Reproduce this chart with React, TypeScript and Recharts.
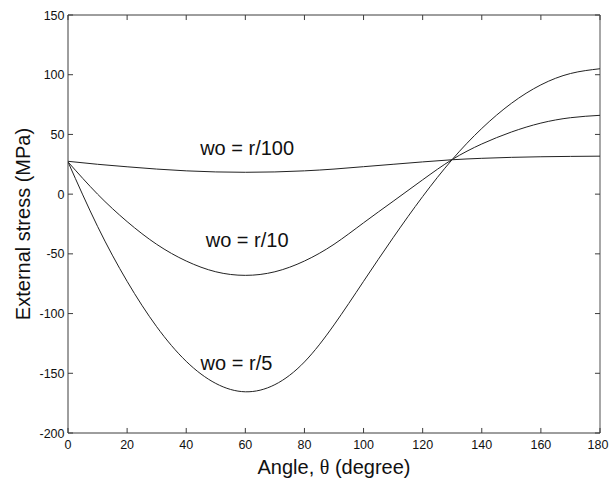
import React from 'react';
import {
  LineChart,
  Line,
  XAxis,
  YAxis,
  ReferenceDot,
  ReferenceLine,
  Label,
} from 'recharts';

const angles = [0, 10, 20, 30, 40, 50, 60, 70, 80, 90, 100, 110, 120, 130, 140, 150, 160, 170, 180];
const woR100 = [27.5, 25, 22.9, 21, 19.5, 18.6, 18.3, 18.6, 19.5, 21, 23, 25, 27, 28.8, 30, 30.8, 31.3, 31.6, 31.8];
const woR10 = [27, 0, -23, -42, -56, -65, -68, -65, -56, -42, -24, -6, 12, 29, 42, 52, 59.5, 64, 66];
const woR5 = [27, -27, -73, -111, -140, -158.5, -165.5, -159.5, -140.5, -109.5, -73, -36.5, -2, 29, 55, 76, 91.5, 101, 105];

const xTicks = [0, 20, 40, 60, 80, 100, 120, 140, 160, 180];
const yTicks = [-200, -150, -100, -50, 0, 50, 100, 150];

const curveLabels = [
  { text: 'wo = r/100', angle: 60.6, stress: 39 },
  { text: 'wo = r/10', angle: 60.6, stress: -38.5 },
  { text: 'wo = r/5', angle: 57, stress: -141 },
];

const data = angles.map((a, i) => ({
  angle: a,
  r100: woR100[i],
  r10: woR10[i],
  r5: woR5[i],
}));

const X_MIN = 0;
const X_MAX = 180;
const Y_MIN = -200;
const Y_MAX = 150;
// inward tick length (~5px) in data units
const TICK_X = 1.7;
const TICK_Y = 4.2;

const font = 'Liberation Sans, Arial, Helvetica, sans-serif';
const axisColor = '#3c3c3c';

const BottomTick = ({ x, y, payload }: any) => (
  <text x={x} y={y + 16} textAnchor="middle" fontSize={12.5} fontFamily={font} fill="#111">
    {payload.value}
  </text>
);

const LeftTick = ({ x, y, payload }: any) => (
  <text x={x - 3.5} y={y + 4.5} textAnchor="end" fontSize={12.5} fontFamily={font} fill="#111">
    {payload.value}
  </text>
);

const App = () => {
  return (
    <div style={{ position: 'absolute', left: 0, top: 0, background: '#fff' }}>
      <LineChart
        width={610}
        height={482}
        data={data}
        margin={{ top: 15, right: 10, bottom: 0, left: 0 }}
      >
        <XAxis
          dataKey="angle"
          type="number"
          domain={[X_MIN, X_MAX]}
          ticks={xTicks}
          allowDataOverflow
          height={49}
          stroke={axisColor}
          tickLine={false}
          tickSize={0}
          tickMargin={0}
          tick={<BottomTick />}
        >
          <Label
            content={({ viewBox }: any) => (
              <text
                x={viewBox.x + viewBox.width / 2}
                y={viewBox.y + 41}
                textAnchor="middle"
                fontSize={20}
                fontFamily={font}
                fill="#111"
              >
                Angle,{' '}
                <tspan fontFamily="Liberation Serif, serif">θ</tspan> (degree)
              </text>
            )}
          />
        </XAxis>
        <YAxis
          type="number"
          domain={[Y_MIN, Y_MAX]}
          ticks={yTicks}
          allowDataOverflow
          width={68}
          stroke={axisColor}
          tickLine={false}
          tickSize={0}
          tickMargin={0}
          tick={<LeftTick />}
        >
          <Label
            content={({ viewBox }: any) => (
              <text
                x={23}
                y={viewBox.y + viewBox.height / 2}
                textAnchor="middle"
                dominantBaseline="central"
                fontSize={20}
                fontFamily={font}
                fill="#111"
                transform={`rotate(-90, 23, ${viewBox.y + viewBox.height / 2})`}
              >
                External stress (MPa)
              </text>
            )}
          />
        </YAxis>

        {/* box: top and right edges */}
        <ReferenceLine y={Y_MAX} stroke={axisColor} ifOverflow="visible" />
        <ReferenceLine x={X_MAX} stroke="#8a8a8a" strokeWidth={1.5} ifOverflow="visible" />

        {/* inward ticks on all four sides */}
        {xTicks.map((t) => (
          <ReferenceLine
            key={`xb${t}`}
            segment={[{ x: t, y: Y_MIN }, { x: t, y: Y_MIN + TICK_Y }]}
            stroke={axisColor}
            ifOverflow="visible"
          />
        ))}
        {xTicks.map((t) => (
          <ReferenceLine
            key={`xt${t}`}
            segment={[{ x: t, y: Y_MAX }, { x: t, y: Y_MAX - TICK_Y }]}
            stroke={axisColor}
            ifOverflow="visible"
          />
        ))}
        {yTicks.map((t) => (
          <ReferenceLine
            key={`yl${t}`}
            segment={[{ x: X_MIN, y: t }, { x: X_MIN + TICK_X, y: t }]}
            stroke={axisColor}
            ifOverflow="visible"
          />
        ))}
        {yTicks.map((t) => (
          <ReferenceLine
            key={`yr${t}`}
            segment={[{ x: X_MAX, y: t }, { x: X_MAX - TICK_X, y: t }]}
            stroke={axisColor}
            ifOverflow="visible"
          />
        ))}

        <Line dataKey="r100" type="natural" stroke="#222" strokeWidth={1} dot={false} isAnimationActive={false} />
        <Line dataKey="r10" type="natural" stroke="#222" strokeWidth={1} dot={false} isAnimationActive={false} />
        <Line dataKey="r5" type="natural" stroke="#222" strokeWidth={1} dot={false} isAnimationActive={false} />
        {curveLabels.map((l) => (
          <ReferenceDot
            key={l.text}
            x={l.angle}
            y={l.stress}
            r={0}
            fill="none"
            stroke="none"
            label={{
              value: l.text,
              position: 'center',
              fontSize: 20,
              fontFamily: font,
              fill: '#111',
            }}
          />
        ))}
      </LineChart>
    </div>
  );
};

export default App;
